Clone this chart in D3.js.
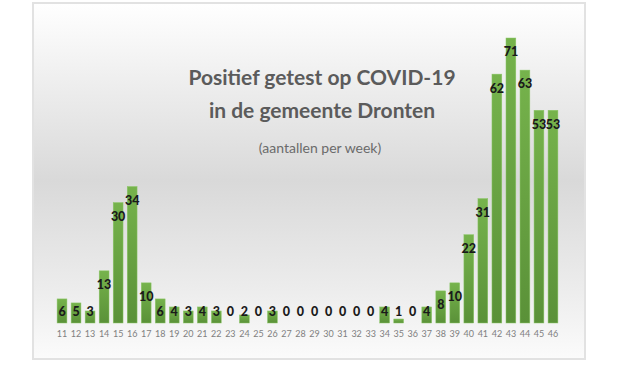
<!DOCTYPE html>
<html>
<head>
<meta charset="utf-8">
<script src="https://cdn.jsdelivr.net/npm/d3@7"></script>
<style>
  html, body { margin: 0; padding: 0; background: #ffffff; }
  svg { display: block; }
</style>
</head>
<body>
<svg id="chart" width="620" height="365"></svg>
<script>
const weeks = [11,12,13,14,15,16,17,18,19,20,21,22,23,24,25,26,27,28,29,30,31,32,33,34,35,36,37,38,39,40,41,42,43,44,45,46];
const cases = [6,5,3,13,30,34,10,6,4,3,4,3,0,2,0,3,0,0,0,0,0,0,0,4,1,0,4,8,10,22,31,62,71,63,53,53];
const titleLines = ["Positief getest op COVID-19", "in de gemeente Dronten"];
const subtitle = "(aantallen per week)";

const svg = d3.select("#chart");
const defs = svg.append("defs");

const bg = defs.append("linearGradient").attr("id", "bg").attr("x1", 0).attr("y1", 0).attr("x2", 0).attr("y2", 1);
[[0, "#ffffff"], [0.12, "#f6f6f6"], [0.5, "#d9d9d9"], [0.8, "#ececec"], [1, "#fbfbfb"]]
  .forEach(([o, c]) => bg.append("stop").attr("offset", o).attr("stop-color", c));

const barGrad = defs.append("linearGradient").attr("id", "barg").attr("x1", 0).attr("y1", 0).attr("x2", 0).attr("y2", 1);
[[0, "#76b34c"], [1, "#5a9138"]].forEach(([o, c]) => barGrad.append("stop").attr("offset", o).attr("stop-color", c));

// frame
svg.append("rect").attr("x", 33).attr("y", 3).attr("width", 552).attr("height", 356)
  .attr("fill", "url(#bg)").attr("stroke", "#e2e2e2").attr("stroke-width", 2);

const x = d3.scaleBand().domain(weeks).range([55, 560]).paddingInner(0.3).paddingOuter(0.15);
const y = d3.scaleLinear().domain([0, 71]).range([323, 38]);

const data = weeks.map((w, i) => ({ w, v: cases[i] }));

svg.append("g").selectAll("rect").data(data).join("rect")
  .attr("x", d => x(d.w))
  .attr("y", d => y(d.v))
  .attr("width", x.bandwidth())
  .attr("height", d => y(0) - y(d.v))
  .attr("fill", "url(#barg)")
  .attr("stroke", "#8cc768").attr("stroke-width", 0.5);

svg.append("g").selectAll("text").data(data).join("text")
  .attr("x", d => x(d.w) + x.bandwidth() / 2)
  .attr("y", d => Math.min(y(d.v) + 14, y(0) - 11))
  .attr("dy", "0.35em")
  .attr("text-anchor", "middle")
  .attr("font-family", "Lato, 'Open Sans', sans-serif")
  .attr("font-weight", "900")
  .attr("font-size", 12.5)
  .attr("fill", "#1a1a1a")
  .text(d => d.v);

const axis = d3.axisBottom(x).tickSize(0).tickPadding(0);
const ax = svg.append("g").attr("transform", "translate(0,331)").call(axis);
ax.select(".domain").remove();
ax.selectAll("text")
  .attr("font-family", "Lato, 'Open Sans', sans-serif")
  .attr("font-size", 9)
  .attr("fill", "#7f7f7f");

svg.append("g").selectAll("text").data(titleLines).join("text")
  .attr("x", 322)
  .attr("y", (d, i) => 85 + i * 33)
  .attr("text-anchor", "middle")
  .attr("font-family", "Lato, 'Open Sans', sans-serif")
  .attr("font-weight", "bold")
  .attr("font-size", 21)
  .attr("fill", "#5b5b5b")
  .text(d => d);

svg.append("text")
  .attr("x", 320).attr("y", 153)
  .attr("text-anchor", "middle")
  .attr("font-family", "Lato, 'Open Sans', sans-serif")
  .attr("font-size", 14)
  .attr("fill", "#6b6b6b")
  .text(subtitle);
</script>
</body>
</html>
